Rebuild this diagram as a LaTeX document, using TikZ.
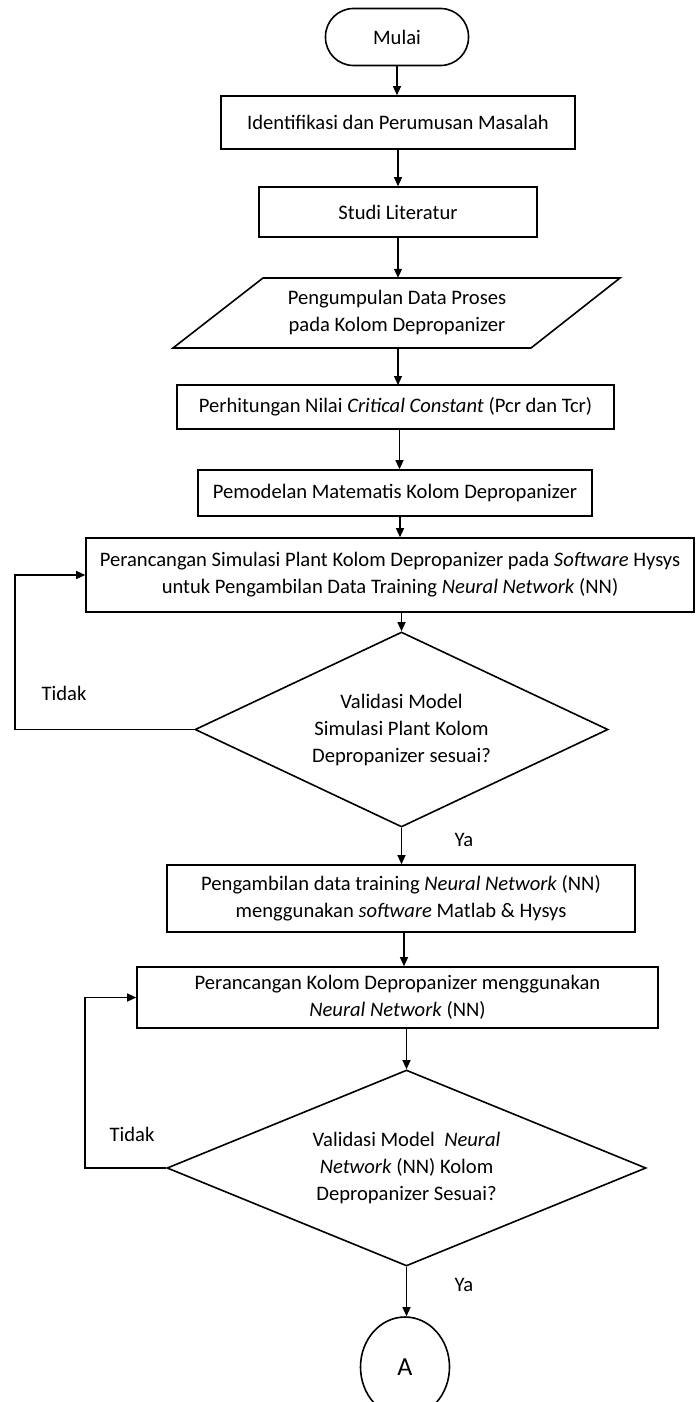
\documentclass[tikz,border=0pt]{standalone}
\usepackage{fontspec}
\setmainfont{Carlito}
\usetikzlibrary{shapes.geometric,arrows.meta}
\begin{document}
\begin{tikzpicture}[x=1pt,y=-1pt,
  every node/.style={font=\fontsize{20.6}{27}\selectfont},
  box/.style={draw,line width=1.6pt,inner sep=0pt,align=center},
  dec/.style={draw,diamond,line width=1.6pt,inner sep=0pt,align=center},
  arr/.style={line width=1.2pt,-{Triangle[length=9pt,width=8pt]}},
  lin/.style={line width=1.6pt},
  lbl/.style={inner sep=0pt}]
\useasboundingbox (0,0) rectangle (696,1402);
\fill[white] (0,0) rectangle (696,1402);

\node[box,rounded corners=28pt,minimum width=143pt,minimum height=57pt] (start) at (397,37) {Mulai};
\node[box,minimum width=354pt,minimum height=53pt] (ident) at (398,122.5) {Identifikasi dan Perumusan Masalah};
\node[box,minimum width=278pt,minimum height=50pt] (studi) at (398,212) {Studi Literatur};
\draw[lin] (263,278) -- (620,278) -- (531,348) -- (173,348) -- cycle;
\node[inner sep=0pt,minimum width=358pt,minimum height=70pt,align=center] (data) at (397,313) {Pengumpulan Data Proses\\pada Kolom Depropanizer};
\node[box,minimum width=437pt,minimum height=44pt] (perh) at (395.5,407) {Perhitungan Nilai \textit{Critical Constant} (Pcr dan Tcr)};
\node[box,minimum width=394pt,minimum height=46pt] (pemod) at (395,493) {Pemodelan Matematis Kolom Depropanizer};
\node[box,minimum width=608pt,minimum height=74pt] (sim) at (390,575) {Perancangan Simulasi Plant Kolom Depropanizer pada \textit{Software} Hysys\\untuk Pengambilan Data Training \textit{Neural Network} (NN)};
\node[dec,aspect=2.12,minimum width=413pt,minimum height=195pt] (d1) at (401.5,729.5) {Validasi Model\\Simulasi Plant Kolom\\Depropanizer sesuai?};
\node[box,minimum width=468pt,minimum height=67pt] (ambil) at (401,898.5) {Pengambilan data training \textit{Neural Network} (NN)\\menggunakan \textit{software} Matlab \& Hysys};
\node[box,minimum width=521pt,minimum height=61pt] (nn) at (397.5,997.5) {Perancangan Kolom Depropanizer menggunakan\\\textit{Neural Network} (NN)};
\node[dec,aspect=2.44,minimum width=479pt,minimum height=196pt] (d2) at (406.5,1168) {Validasi Model\ \ \textit{Neural}\\\textit{Network} (NN) Kolom\\Depropanizer Sesuai?};
\node[draw,ellipse,line width=1.6pt,inner sep=0pt,minimum width=89pt,minimum height=100pt,font=\fontsize{26}{30}\selectfont] (A) at (405,1367) {A};

\node[lbl] (t1) at (64,693) {Tidak};
\node[lbl] (t2) at (132,1134) {Tidak};
\node[lbl] (y1) at (464,840) {Ya};
\node[lbl] (y2) at (464,1285) {Ya};

\coordinate (c1) at (15,729.5);
\coordinate (c2) at (85,1168);

\draw[arr] (start.south) -- (start.south |- ident.north);
\draw[arr] (ident.south) -- (ident.south |- studi.north);
\draw[arr] (studi.south) -- (studi.south |- data.north);
\draw[arr] (398,348) -- (398,385);
\draw[arr] (perh.south) ++(4,0) -- ([xshift=4pt]perh.south |- pemod.north);
\draw[arr] ([xshift=5pt]pemod.south) -- ([xshift=5pt]pemod.south |- sim.north);
\draw[arr] (d1.north |- sim.south) -- (d1.north);
\draw[arr] (d1.south) -- (d1.south |- ambil.north);
\draw[arr] ([xshift=3pt]ambil.south) -- ([xshift=3pt]ambil.south |- nn.north);
\draw[arr] (d2.north |- nn.south) -- (d2.north);
\draw[arr] (d2.south) -- (d2.south |- A.north);
\draw[arr] (d1.west) -- (c1) |- (sim.west);
\draw[arr] (d2.west) -- (c2) |- (nn.west);
\end{tikzpicture}
\end{document}
